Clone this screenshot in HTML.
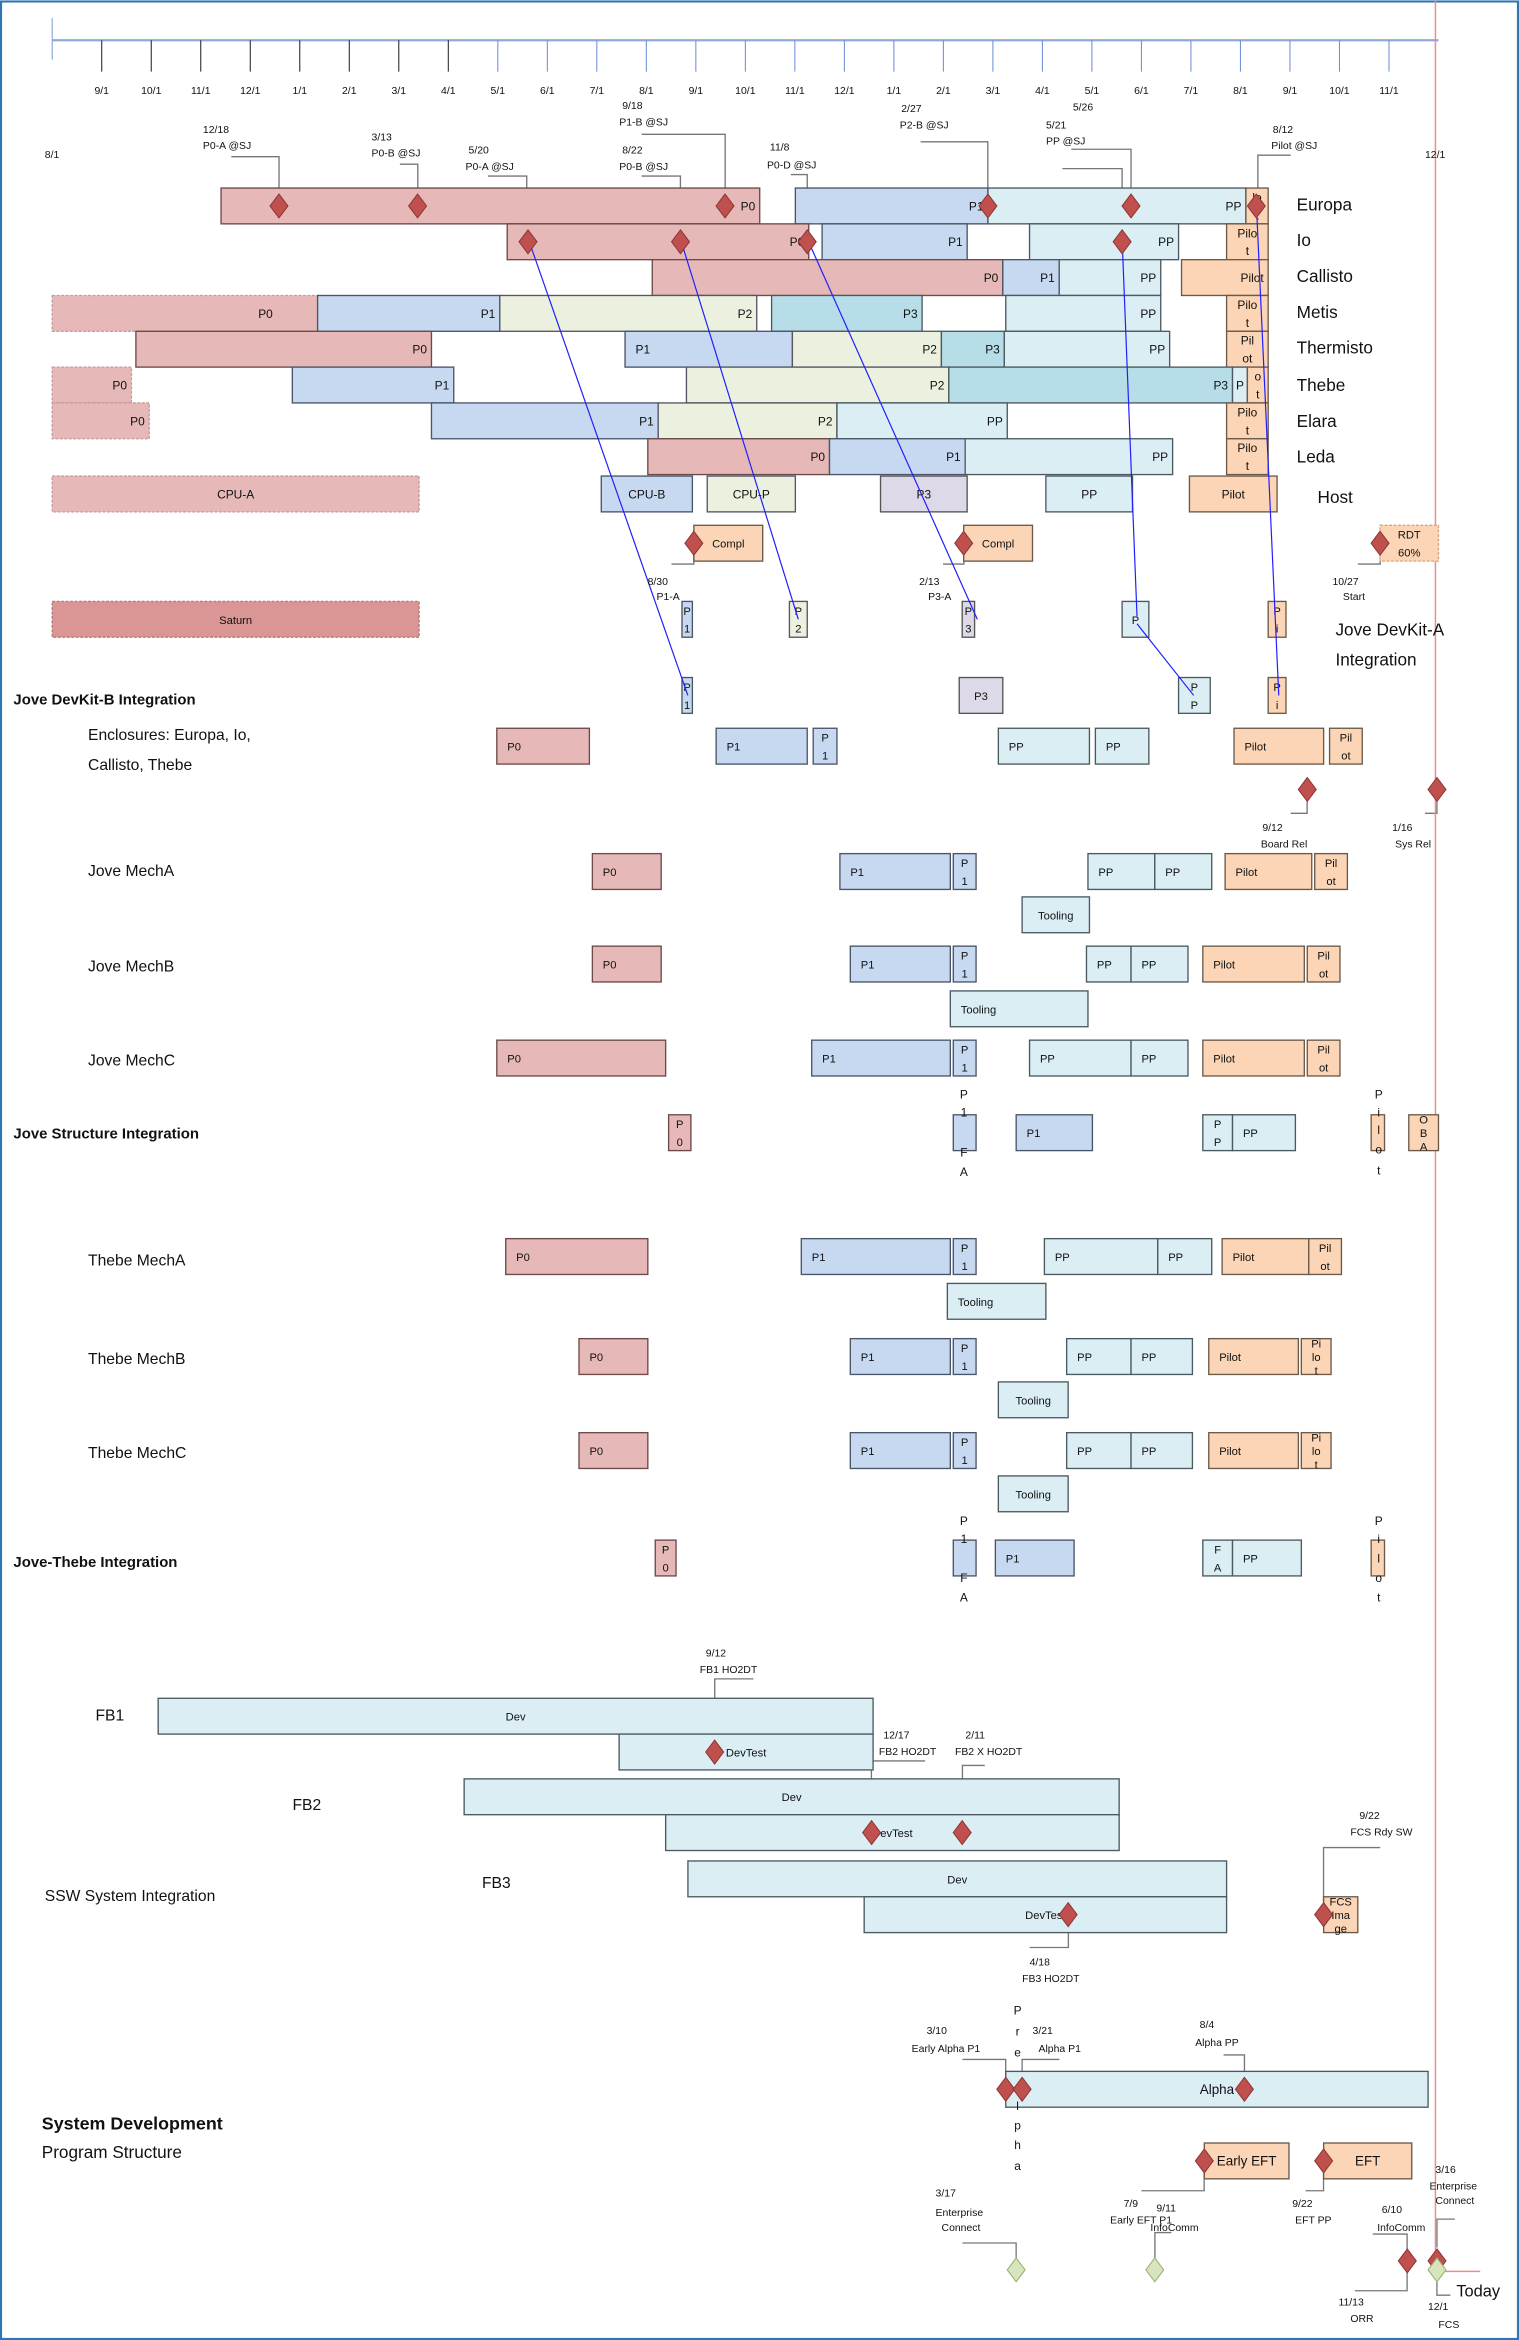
<!DOCTYPE html>
<html><head><meta charset="utf-8"><style>
html,body{margin:0;padding:0;background:#fff;}
svg{display:block;font-family:"Liberation Sans",sans-serif;}
</style></head><body>
<svg id="chart" width="1519" height="2340" viewBox="0 0 1018 1568" preserveAspectRatio="none" xmlns="http://www.w3.org/2000/svg">
<rect x="0.7" y="1" width="1016.6" height="1566.3" fill="#fff" stroke="#2e75b6" stroke-width="1.4"/>
<g id="axis"></g>
<g id="leaders" stroke="#777" stroke-width="0.9" fill="none">
<polyline points="155,105 187,105 187,129"/><polyline points="268,110 280,110 280,129"/>
<polyline points="327,118 353,118 353,152"/><polyline points="430,90 486,90 486,129"/>
<polyline points="430,118 456,118 456,152"/><polyline points="530,117 541,117 541,152"/>
<polyline points="617,95 662,95 662,129"/><polyline points="718,100 758,100 758,129"/>
<polyline points="712,113 752,113 752,152"/><polyline points="865,104 843,104 843,129"/>
<polyline points="450,378 465,378 465,372"/><polyline points="632,378 646,378 646,372"/><polyline points="910,378 925,378 925,372"/>
<polyline points="876,537 876,545 865,545"/><polyline points="963,537 963,545 955,545"/>
<polyline points="479,1166 479,1125 505,1125"/><polyline points="584,1220 584,1180 620,1180"/>
<polyline points="645,1220 645,1183 660,1183"/><polyline points="716,1291 716,1305 690,1305"/>
<polyline points="887,1275 887,1238 925,1238"/><polyline points="674,1392 674,1380 645,1380"/>
<polyline points="685,1392 685,1380 710,1380"/><polyline points="834,1392 834,1377 820,1377"/>
<polyline points="807,1456 807,1468 765,1468"/><polyline points="887,1456 887,1468 875,1468"/>
<polyline points="681,1513 681,1503 645,1503"/><polyline points="774,1513 774,1496 785,1496"/>
<polyline points="943,1507 943,1497 920,1497"/><polyline points="963,1506 963,1487 975,1487"/>
<polyline points="943,1523 943,1535 908,1535"/><polyline points="963,1528 963,1538 972,1538"/>
</g>
<line x1="962" y1="0" x2="962" y2="1522" stroke="#e6908c" stroke-width="1"/>
<line x1="962" y1="1522" x2="992" y2="1522" stroke="#e6908c" stroke-width="1"/>
<g id="bars"></g>
<g id="arrows" stroke="#1f1fff" stroke-width="0.8" fill="none">
<line x1="354" y1="160" x2="461" y2="466"/><line x1="456" y1="160" x2="535" y2="415"/>
<line x1="541" y1="160" x2="655" y2="415"/><line x1="752" y1="160" x2="762" y2="413"/>
<line x1="842" y1="137" x2="857" y2="466"/><line x1="762" y1="418" x2="800" y2="466"/>
</g>
<g id="ms"></g>
<g font-size="7" fill="#111">
<text x="30" y="106">8/1</text><text x="955" y="106">12/1</text>
<text x="136" y="89">12/18</text><text x="136" y="100">P0-A @SJ</text>
<text x="249" y="94">3/13</text><text x="249" y="105">P0-B @SJ</text>
<text x="314" y="103">5/20</text><text x="312" y="114">P0-A @SJ</text>
<text x="417" y="73">9/18</text><text x="415" y="84">P1-B @SJ</text>
<text x="417" y="103">8/22</text><text x="415" y="114">P0-B @SJ</text>
<text x="516" y="101">11/8</text><text x="514" y="113">P0-D @SJ</text>
<text x="604" y="75">2/27</text><text x="603" y="86">P2-B @SJ</text>
<text x="719" y="74">5/26</text><text x="701" y="86">5/21</text><text x="701" y="97">PP @SJ</text>
<text x="853" y="89">8/12</text><text x="852" y="100">Pilot @SJ</text>
<text x="434" y="392">8/30</text><text x="440" y="402">P1-A</text>
<text x="616" y="392">2/13</text><text x="622" y="402">P3-A</text>
<text x="893" y="392">10/27</text><text x="900" y="402">Start</text>
<text x="846" y="557">9/12</text><text x="845" y="568">Board Rel</text>
<text x="933" y="557">1/16</text><text x="935" y="568">Sys Rel</text>
<text x="473" y="1110">9/12</text><text x="469" y="1121">FB1 HO2DT</text>
<text x="592" y="1165">12/17</text><text x="589" y="1176">FB2 HO2DT</text>
<text x="647" y="1165">2/11</text><text x="640" y="1176">FB2 X HO2DT</text>
<text x="690" y="1317">4/18</text><text x="685" y="1328">FB3 HO2DT</text>
<text x="911" y="1219">9/22</text><text x="905" y="1230">FCS Rdy SW</text>
<text x="621" y="1363">3/10</text><text x="611" y="1375">Early Alpha P1</text>
<text x="692" y="1363">3/21</text><text x="696" y="1375">Alpha P1</text>
<text x="804" y="1359">8/4</text><text x="801" y="1371">Alpha PP</text>
<text x="753" y="1479">7/9</text><text x="744" y="1490">Early EFT P1</text>
<text x="775" y="1482">9/11</text><text x="771" y="1495">InfoComm</text>
<text x="866" y="1479">9/22</text><text x="868" y="1490">EFT PP</text>
<text x="926" y="1483">6/10</text><text x="923" y="1495">InfoComm</text>
<text x="962" y="1456">3/16</text><text x="958" y="1467">Enterprise</text><text x="962" y="1477">Connect</text>
<text x="627" y="1472">3/17</text><text x="627" y="1485">Enterprise</text><text x="631" y="1495">Connect</text>
<text x="897" y="1545">11/13</text><text x="905" y="1556">ORR</text>
<text x="957" y="1548">12/1</text><text x="964" y="1560">FCS</text>
</g>
<g font-size="8" fill="#111" text-anchor="middle">
<text x="646" y="736">P</text><text x="646" y="748">1</text><text x="646" y="775">F</text><text x="646" y="788">A</text>
<text x="924" y="736">P</text><text x="924" y="748">i</text><text x="924" y="760">l</text><text x="924" y="773">o</text><text x="924" y="787">t</text>
<text x="646" y="1022">P</text><text x="646" y="1034">1</text><text x="646" y="1060">F</text><text x="646" y="1073">A</text>
<text x="924" y="1022">P</text><text x="924" y="1034">i</text><text x="924" y="1047">l</text><text x="924" y="1060">o</text><text x="924" y="1073">t</text>
<text x="682" y="1350">P</text><text x="682" y="1364">r</text><text x="682" y="1378">e</text><text x="682" y="1414">l</text><text x="682" y="1427">p</text><text x="682" y="1440">h</text><text x="682" y="1454">a</text>
</g>
<g font-size="11.5" fill="#111">
<text x="869" y="141">Europa</text><text x="869" y="165">Io</text><text x="869" y="189">Callisto</text>
<text x="869" y="213">Metis</text><text x="869" y="237">Thermisto</text><text x="869" y="262">Thebe</text>
<text x="869" y="286">Elara</text><text x="869" y="310">Leda</text><text x="883" y="337">Host</text>
<text x="895" y="426">Jove DevKit-A</text><text x="895" y="446">Integration</text>
</g>
<g font-size="10.5" fill="#111">
<text x="9" y="472" font-weight="bold" font-size="10">Jove DevKit-B Integration</text>
<text x="59" y="496">Enclosures: Europa, Io,</text><text x="59" y="516">Callisto, Thebe</text>
<text x="59" y="587">Jove MechA</text><text x="59" y="651">Jove MechB</text><text x="59" y="714">Jove MechC</text>
<text x="9" y="763" font-weight="bold" font-size="10">Jove Structure Integration</text>
<text x="59" y="848">Thebe MechA</text><text x="59" y="914">Thebe MechB</text><text x="59" y="977">Thebe MechC</text>
<text x="9" y="1050" font-weight="bold" font-size="10">Jove-Thebe Integration</text>
<text x="64" y="1153">FB1</text><text x="196" y="1213">FB2</text><text x="323" y="1265">FB3</text>
<text x="30" y="1274">SSW System Integration</text>
<text x="28" y="1427" font-weight="bold" font-size="12">System Development</text>
<text x="28" y="1446" font-size="11.5">Program Structure</text>
<text x="976" y="1539" font-size="11">Today</text>
</g>
</svg>
<script>
const tickLabels = ['9/1','10/1','11/1','12/1','1/1','2/1','3/1','4/1','5/1','6/1','7/1','8/1','9/1','10/1','11/1','12/1','1/1','2/1','3/1','4/1','5/1','6/1','7/1','8/1','9/1','10/1','11/1'];
const taskRows = ['eu','io','ca','me','th','tb','el','le','ho','cp','sa1','sa2','enc','mA','mAt','mB','mBt','mC','si','tA','tAt','tB','tBt','tC','tCt','jt','fb1','fb1t','fb2','fb2t','fb3','fb3t','al','ef'];
const taskStarts = [];
const taskEnds = [];
const tasks = [
['eu',3.41,14.29,'P0','pk','r'],['eu',15.01,18.90,'P1','bl','r'],['eu',18.90,24.11,'PP','cy','r'],['eu',24.11,24.56,'lo|t','or','c'],
['io',9.19,15.28,'P0','pk','r'],['io',15.55,18.48,'P1','bl','r'],['io',19.74,22.75,'PP','cy','r'],['io',23.72,24.56,'Pilo|t','or','c'],
['ca',12.12,19.20,'P0','pk','r'],['ca',19.20,20.34,'P1','bl','r'],['ca',20.34,22.39,'PP','cy','r'],['ca',22.81,24.56,'Pilot','or','r'],
['me',0,5.36,'P0','pkd','m'],['me',5.36,9.04,'P1','bl','r'],['me',9.04,14.23,'P2','gr','r'],['me',14.53,17.57,'P3','tl','r'],['me',19.26,22.39,'PP','cy','r'],['me',23.72,24.56,'Pilo|t','or','c'],
['th',1.69,7.66,'P0','pk','r'],['th',11.57,14.95,'P1','bl','l'],['th',14.95,17.96,'P2','gr','r'],['th',17.96,19.23,'P3','tl','r'],['th',19.23,22.57,'PP','cy','r'],['th',23.72,24.56,'Pil|ot','or','c'],
['tb',0,1.6,'P0','pkd','r'],['tb',4.85,8.11,'P1','bl','r'],['tb',12.81,18.11,'P2','gr','r'],['tb',18.11,23.84,'P3','tl','r'],['tb',23.84,24.14,'P','cy','c'],['tb',24.14,24.56,'o|t','or','c'],
['el',0,1.96,'P0','pkd','r'],['el',7.66,12.24,'P1','bl','r'],['el',12.24,15.85,'P2','gr','r'],['el',15.85,19.29,'PP','cy','r'],['el',23.72,24.56,'Pilo|t','or','c'],
['le',12.03,15.70,'P0','pk','r'],['le',15.70,18.44,'P1','bl','r'],['le',18.44,22.63,'PP','cy','r'],['le',23.72,24.56,'Pilo|t','or','c'],
['ho',0,7.41,'CPU-A','pkd','c'],['ho',11.09,12.93,'CPU-B','bl','c'],['ho',13.23,15.01,'CPU-P','gr','c'],['ho',16.73,18.48,'P3','lv','c'],['ho',20.07,21.82,'PP','cy','c'],['ho',22.97,24.74,'Pilot','or','c'],
['cp',12.96,14.35,'Compl','or','c'],['cp',18.41,19.80,'Compl','or','c'],['cp',26.82,28.0,'RDT|60%','ord','c'],
['sa1',0,7.41,'Saturn','sat','c'],['sa1',12.72,12.93,'P|1','bl','c'],['sa1',14.89,15.25,'P|2','gr','c'],['sa1',18.38,18.63,'P|3','lv','c'],['sa1',21.61,22.15,'P','cy','c'],['sa1',24.56,24.92,'P|i','or','c'],
['sa2',12.72,12.93,'P|1','bl','c'],['sa2',18.32,19.20,'P3','lv','c'],['sa2',22.75,23.39,'P|P','cy','c'],['sa2',24.56,24.92,'P|i','or','c'],
['enc',8.98,10.85,'P0','pk','l'],['enc',13.41,15.25,'P1','bl','l'],['enc',15.37,15.85,'P|1','bl','c'],['enc',19.11,20.95,'PP','cy','l'],['enc',21.07,22.15,'PP','cy','l'],['enc',23.87,25.68,'Pilot','or','l'],['enc',25.80,26.46,'Pil|ot','or','c'],
['mA',10.91,12.30,'P0','pk','l'],['mA',15.91,18.14,'P1','bl','l'],['mA',18.20,18.66,'P|1','bl','c'],['mA',20.92,22.27,'PP','cy','l'],['mA',22.27,23.42,'PP','cy','l'],['mA',23.69,25.44,'Pilot','or','l'],['mA',25.50,26.16,'Pil|ot','or','c'],['mAt',19.59,20.95,'Tooling','cy','c'],
['mB',10.91,12.30,'P0','pk','l'],['mB',16.12,18.14,'P1','bl','l'],['mB',18.20,18.66,'P|1','bl','c'],['mB',20.89,21.79,'PP','cy','l'],['mB',21.79,22.94,'PP','cy','l'],['mB',23.24,25.29,'Pilot','or','l'],['mB',25.35,26.01,'Pil|ot','or','c'],['mBt',18.14,20.92,'Tooling','cy','l'],
['mC',8.98,12.39,'P0','pk','l'],['mC',15.34,18.14,'P1','bl','l'],['mC',18.20,18.66,'P|1','bl','c'],['mC',19.74,21.79,'PP','cy','l'],['mC',21.79,22.94,'PP','cy','l'],['mC',23.24,25.29,'Pilot','or','l'],['mC',25.35,26.01,'Pil|ot','or','c'],
['si',12.45,12.90,'P|0','pk','c'],['si',18.20,18.66,'','bl','c'],['si',19.47,21.01,'P1','bl','l'],['si',23.24,23.84,'P|P','cy','c'],['si',23.84,25.11,'PP','cy','l'],['si',26.64,26.91,'','or','c'],['si',27.40,28.0,'O|B|A','or','c'],
['tA',9.16,12.03,'P0','pk','l'],['tA',15.13,18.14,'P1','bl','l'],['tA',18.20,18.66,'P|1','bl','c'],['tA',20.04,22.33,'PP','cy','l'],['tA',22.33,23.42,'PP','cy','l'],['tA',23.63,25.38,'Pilot','or','l'],['tA',25.38,26.04,'Pil|ot','or','c'],['tAt',18.08,20.07,'Tooling','cy','l'],
['tB',10.64,12.03,'P0','pk','l'],['tB',16.12,18.14,'P1','bl','l'],['tB',18.20,18.66,'P|1','bl','c'],['tB',20.49,21.79,'PP','cy','l'],['tB',21.79,23.03,'PP','cy','l'],['tB',23.36,25.17,'Pilot','or','l'],['tB',25.23,25.83,'Pi|lo|t','or','c'],['tBt',19.11,20.52,'Tooling','cy','c'],
['tC',10.64,12.03,'P0','pk','l'],['tC',16.12,18.14,'P1','bl','l'],['tC',18.20,18.66,'P|1','bl','c'],['tC',20.49,21.79,'PP','cy','l'],['tC',21.79,23.03,'PP','cy','l'],['tC',23.36,25.17,'Pilot','or','l'],['tC',25.23,25.83,'Pi|lo|t','or','c'],['tCt',19.11,20.52,'Tooling','cy','c'],
['jt',12.18,12.6,'P|0','pk','c'],['jt',18.20,18.66,'','bl','c'],['jt',19.05,20.64,'P1','bl','l'],['jt',23.24,23.84,'F|A','cy','c'],['jt',23.84,25.23,'PP','cy','l'],['jt',26.64,26.91,'','or','c'],
['fb1',2.14,16.58,'Dev','cy','c'],['fb1t',11.45,16.58,'DevTest','cy','c'],['fb2',8.32,21.55,'Dev','cy','c'],['fb2t',12.39,21.55,'DevTest','cy','c'],
['fb3',12.84,23.72,'Dev','cy','c'],['fb3t',16.40,23.72,'DevTest','cy','c'],['fb3t',25.68,26.37,'FCS|Ima|ge','or','c'],
['al',19.26,27.79,'Alpha','cy','c'],['ef',23.27,24.98,'Early EFT','or','c'],['ef',25.68,27.46,'EFT','or','c']
];
const milestoneMonths = [4.58,7.38,13.59,18.90,21.79,24.32, 9.61,12.69,15.25,21.61, 12.96,18.41,26.82, 25.35,27.97, 13.38,16.55,18.38,20.52,25.68, 19.26,19.59,24.08,23.27,25.68,27.37,27.97, 19.47,22.27,27.97];
const milestoneRows = ['eu','eu','eu','eu','eu','eu','io','io','io','io','cp','cp','cp','encm','encm','fb1t','fb2t','fb2t','fb3t','fb3t','al','al','al','ef','ef','end','end','endg','endg','endg'];
const milestoneKinds = ['r','r','r','r','r','r','r','r','r','r','r','r','r','r','r','r','r','r','r','r','r','r','r','r','r','r','r','g','g','g'];

// layout
const rowTop = {eu:126,io:150,ca:174,me:198,th:222,tb:246,el:270,le:294,ho:319,cp:352,sa1:403,sa2:454,enc:488,mA:572,mAt:601,mB:634,mBt:664,mC:697,si:747,tA:830,tAt:860,tB:897,tBt:926,tC:960,tCt:989,jt:1032,fb1:1138,fb1t:1162,fb2:1192,fb2t:1216,fb3:1247,fb3t:1271,al:1388,ef:1436,encm:517,end:1503,endg:1509};
const styles = {pk:['#e6b9b8','#6b4a4a',''],pkd:['#e6b9b8','#c99a99','2,1'],bl:['#c6d9f1','#4a5568',''],cy:['#dbeef4','#4a5a60',''],gr:['#ebf1de','#556',''],tl:['#b7dee8','#4a5a60',''],or:['#fbd5b5','#6b5a4a',''],ord:['#fbd5b5','#d9a57a','2,1'],lv:['#ddd9e8','#555',''],sat:['#d99694','#b77a78','2,1']};
const X0 = 35, MW = 33.18, RH = 24;
const xm = m => X0 + m*MW;
const NS = 'http://www.w3.org/2000/svg';
function mk(tag, attrs, parent){const e=document.createElementNS(NS,tag);for(const k in attrs)e.setAttribute(k,attrs[k]);parent.appendChild(e);return e;}

// axis
const ax = document.getElementById('axis');
const axl = mk('line',{x1:35,y1:27,x2:xm(28),y2:27,stroke:'#8eaadb','stroke-width':1.5},ax);


mk('line',{x1:35,y1:12,x2:35,y2:40,stroke:'#8eaadb','stroke-width':0.8},ax);
tickLabels.forEach((t,i)=>{
  const x = xm(i+1);
  const tk = mk('line',{x1:x,y1:27,x2:x,y2:48,stroke:i<8?'#222':'#6f8fd8','stroke-width':0.7},ax);
  
  
  const tl = mk('text',{x:x,y:63,'font-size':7,'text-anchor':'middle',fill:'#111'},ax);
  tl.textContent = t;
  
  
});

// bars
const bg = document.getElementById('bars');
tasks.forEach(t=>{
  const [row,s,e,label,st,al] = t;
  taskStarts.push(s); taskEnds.push(e);
  const x1=xm(s), x2=xm(e), y=rowTop[row], sty=styles[st];
  const r = mk('rect',{x:x1,y:y,width:Math.max(1,x2-x1),height:RH,fill:sty[0],stroke:sty[1],'stroke-width':0.9},bg);
  if(sty[2]) r.setAttribute('stroke-dasharray',sty[2]);
  
  
  if(!label) return;
  const lines = label.split('|');
  const fs = (row==='eu'||row==='io'||row==='ca'||row==='me'||row==='th'||row==='tb'||row==='el'||row==='le'||row==='ho')?8:(row==='al'||row==='ef'?9:7.5);
  let tx, anc;
  if(lines.length>1||al==='c'){tx=(x1+x2)/2;anc='middle';}
  else if(al==='r'){tx=x2-3;anc='end';}
  else if(al==='m'){tx=x2-30;anc='end';}
  else {tx=x1+7;anc='start';}
  const gap = lines.length===3?9:12;
  const y0 = y+RH/2 - (lines.length-1)*gap/2 + 3;
  lines.forEach((ln,i)=>{
    const te = mk('text',{x:tx,y:y0+i*gap,'font-size':fs,'text-anchor':anc,fill:'#111'},bg);
    te.textContent = ln;
    
    
  });
});

// milestones
const mg = document.getElementById('ms');
milestoneMonths.forEach((m,i)=>{
  const x = xm(m), yc = rowTop[milestoneRows[i]] + 12;
  const g = milestoneKinds[i]==='g';
  const d = mk('polygon',{points:`${x},${yc-8} ${x+6},${yc} ${x},${yc+8} ${x-6},${yc}`,fill:g?'#d7e4bd':'#c0504d',stroke:g?'#98b06f':'#8c3836','stroke-width':0.7},mg);
  
  
});
</script>
</body></html>
